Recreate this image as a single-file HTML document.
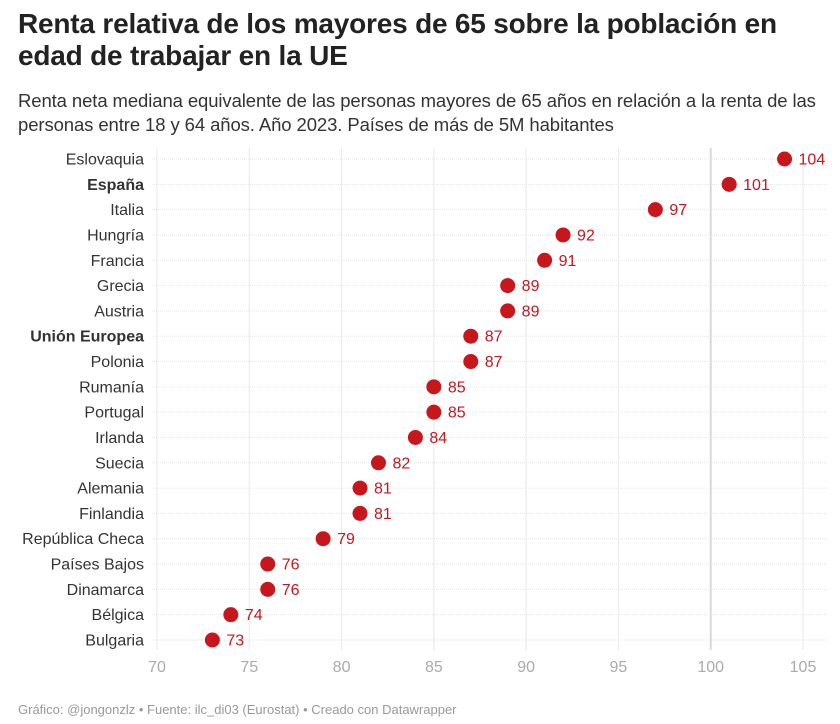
<!DOCTYPE html>
<html><head><meta charset="utf-8"><style>
body{margin:0;background:#fff;font-family:"Liberation Sans",sans-serif;}
#wrap{position:relative;width:840px;height:724px;overflow:hidden}
h1{position:absolute;left:18px;top:8px;margin:0;font-size:28px;line-height:32px;font-weight:bold;color:#222;width:815px;letter-spacing:-0.2px}
.sub{position:absolute;left:18px;top:89px;font-size:18.5px;line-height:24px;color:#333;width:810px;letter-spacing:-0.1px}
.foot{position:absolute;left:18px;top:702px;font-size:13px;color:#999}
svg{position:absolute;left:0;top:0}
</style></head><body><div id="wrap">
<h1>Renta relativa de los mayores de 65 sobre la población en edad de trabajar en la UE</h1>
<div class="sub">Renta neta mediana equivalente de las personas mayores de 65 años en relación a la renta de las personas entre 18 y 64 años. Año 2023. Países de más de 5M habitantes</div>
<svg id="c" width="840" height="724"></svg>
<div class="foot">Gráfico: @jongonzlz • Fuente: ilc_di03 (Eurostat) • Creado con Datawrapper</div>
</div>
<script>
const countries=["Eslovaquia","España","Italia","Hungría","Francia","Grecia","Austria","Unión Europea","Polonia","Rumanía","Portugal","Irlanda","Suecia","Alemania","Finlandia","República Checa","Países Bajos","Dinamarca","Bélgica","Bulgaria"];
const values=[104,101,97,92,91,89,89,87,87,85,85,84,82,81,81,79,76,76,74,73];
const boldNames=["España","Unión Europea"];
const ticks=[70,75,80,85,90,95,100,105];
const NS="http://www.w3.org/2000/svg";
const svg=document.getElementById('c');
const x=v=>157+(v-70)*(646/35);
const y=i=>159+i*(481/19);
function mk(t,a){const e=document.createElementNS(NS,t);for(const k in a)e.setAttribute(k,a[k]);svg.appendChild(e);return e;}
ticks.forEach(t=>{
 const l=mk('line',{x1:x(t),x2:x(t),y1:148,y2:650,stroke:t===100?'#d8d8d8':'#e8e8e8','stroke-width':t===100?2:1});
 
 
 const tx=mk('text',{x:x(t),y:672,'text-anchor':'middle','font-size':16,fill:'#aaa'});
 tx.textContent=t;
 
 
});
countries.forEach((c,i)=>{
 const yy=y(i);
 const r=mk('line',{x1:152,x2:827,y1:yy,y2:yy,stroke:'#e6e6e6','stroke-dasharray':'1 1'});
 
 
 const lb=mk('text',{x:144,y:yy+5.5,'text-anchor':'end','font-size':16,fill:'#333','font-weight':boldNames.includes(c)?'bold':'normal'});
 lb.textContent=c;
 
 
 const d=mk('circle',{cx:x(values[i]),cy:yy,r:7.5,fill:'#c8161d'});
 
 
 const v=mk('text',{x:x(values[i])+14,y:yy+5.5,'font-size':16,fill:'#c8161d'});
 v.textContent=values[i];
 
 
});
</script></body></html>
